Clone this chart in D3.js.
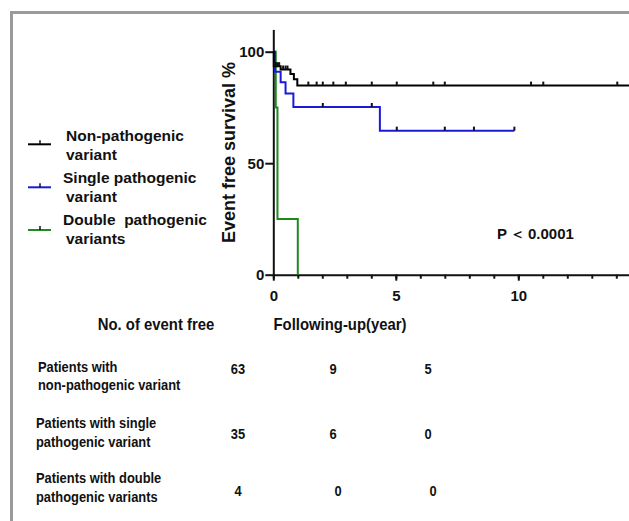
<!DOCTYPE html>
<html>
<head>
<meta charset="utf-8">
<script src="https://cdn.jsdelivr.net/npm/d3@7"></script>
<style>
  body { margin: 0; background: #fff; }
  text { font-family: "Liberation Sans", Arial, sans-serif; font-weight: bold; fill: #111; }
</style>
</head>
<body>
<div id="chart"></div>
<script>
// survival curves (time in years, survival %)
const nonTime = [0, 0.02, 0.3, 0.7, 0.84, 0.98, 15];
const nonSurv = [100, 93.5, 92, 90, 87.7, 84.8, 84.8];
const nonCensor = [0.06, 0.12, 0.18, 0.24, 0.4, 0.5, 0.58, 1.43, 1.77, 2.02, 2.45, 2.96, 4.02, 5.04, 6.53, 7.0, 10.52, 11.02, 14.04];

const singleTime = [0, 0.07, 0.3, 0.5, 0.82, 4.35, 9.84];
const singleSurv = [100, 91, 86.3, 81.3, 75.2, 64.6, 64.6];
const singleCensor = [2.02, 4.02, 5.04, 7.0, 8.19, 9.84];

const doubleTime = [0, 0.1, 0.17, 1.0];
const doubleSurv = [100, 75, 25, 0];
const doubleCensor = [];

const yTicks = [0, 50, 100];
const xMajor = [0, 5, 10];
const xMinor = d3.range(0, 16);

const legendLabels = [["Non-pathogenic", "variant"], ["Single pathogenic", "variant"], ["Double  pathogenic", "variants"]];
const colors = ["#000000", "#1a1adc", "#1e8a1e"];

// number at risk table
const tableHeader = ["No. of event free", "Following-up(year)"];
const rowLabels = [["Patients with", "non-pathogenic variant"], ["Patients with single", "pathogenic variant"], ["Patients with double", "pathogenic variants"]];
const atRisk = [[63, 9, 5], [35, 6, 0], [4, 0, 0]];

const W = 629, H = 521;

const svg = d3.select("#chart").append("svg")
  .attr("width", W).attr("height", H);

svg.append("rect").attr("width", W).attr("height", H).attr("fill", "#fff");

// gray frame (top + left)
svg.append("path")
  .attr("d", `M11.5,${H} V12.5 H${W}`)
  .attr("fill", "none").attr("stroke", "#9a9a9a").attr("stroke-width", 3);

const x = d3.scaleLinear().domain([0, 15]).range([273.3, 273.3 + 15 * 24.5]);
const y = d3.scaleLinear().domain([0, 110]).range([274.7, 274.7 - 110 * 2.23]);

// axes
const gx = svg.append("g").attr("transform", `translate(0,${y(0)})`);
gx.call(d3.axisBottom(x).tickValues(xMinor).tickSize(4).tickSizeOuter(0).tickFormat(""));
const gx2 = svg.append("g").attr("transform", `translate(0,${y(0)})`);
gx2.call(d3.axisBottom(x).tickValues(xMajor).tickSize(6).tickSizeOuter(0).tickPadding(5));
gx2.select(".domain").remove();

const gy = svg.append("g").attr("transform", `translate(${x(0)},0)`);
gy.call(d3.axisLeft(y).tickValues(yTicks).tickSize(8).tickSizeOuter(0).tickPadding(1));

svg.selectAll(".domain, .tick line").attr("stroke", "#111").attr("stroke-width", 2);
svg.selectAll(".tick text").attr("font-size", 15).attr("font-family", null).attr("fill", "#111");
gx2.selectAll(".tick text").attr("dy", "1.05em");

svg.append("text")
  .attr("transform", `translate(235,152.5) rotate(-90)`)
  .attr("text-anchor", "middle")
  .attr("font-size", 18)
  .text("Event free survival %");

// curves
const series = [
  { t: doubleTime, s: doubleSurv, c: doubleCensor, col: colors[2] },
  { t: singleTime, s: singleSurv, c: singleCensor, col: colors[1] },
  { t: nonTime, s: nonSurv, c: nonCensor, col: colors[0] },
];

const line = d3.line().x(d => x(d[0])).y(d => y(d[1])).curve(d3.curveStepAfter);
const bis = d3.bisector(d => d).right;

series.forEach(ser => {
  const pts = ser.t.map((t, i) => [t, ser.s[i]]);
  svg.append("path").datum(pts)
    .attr("d", line)
    .attr("fill", "none").attr("stroke", ser.col).attr("stroke-width", 2);

  svg.selectAll(null).data(ser.c).enter().append("line")
    .attr("x1", d => x(d)).attr("x2", d => x(d))
    .attr("y1", d => y(ser.s[Math.max(0, bis(ser.t, d) - 1)]))
    .attr("y2", d => y(ser.s[Math.max(0, bis(ser.t, d) - 1)]) - 4)
    .attr("stroke", "#111").attr("stroke-width", 2);
});

svg.append("text").attr("x", 497).attr("y", 239).attr("font-size", 15)
  .style("white-space", "pre").text("P\u2009＜\u20090.0001");

// legend
const legendY = [144.3, 187.3, 230];
const legendText = [[140.7, 160], [183, 201.5], [225, 244]];
legendLabels.forEach((lab, i) => {
  const g = svg.append("g");
  g.append("line").attr("x1", 28).attr("x2", 51).attr("y1", legendY[i]).attr("y2", legendY[i])
    .attr("stroke", colors[i]).attr("stroke-width", 2);
  g.append("line").attr("x1", 40).attr("x2", 40).attr("y1", legendY[i]).attr("y2", legendY[i] - 4)
    .attr("stroke", "#111").attr("stroke-width", 1.5);
  lab.forEach((l, j) => {
    g.append("text").attr("x", j == 0 && i > 0 ? 63 : 66).attr("y", legendText[i][j])
      .attr("font-size", 15.5).style("white-space", "pre").text(l);
  });
});

// table
svg.append("text").attr("transform", "translate(156,330) scale(0.93,1)").attr("text-anchor", "middle").attr("font-size", 16).text(tableHeader[0]);
svg.append("text").attr("transform", "translate(340,330) scale(0.93,1)").attr("text-anchor", "middle").attr("font-size", 16).text(tableHeader[1]);

const colX = d3.scalePoint().domain([0, 1, 2]).range([238, 428]);
const rowBase = [[371.7, 390], [428, 446.7], [483, 501.7]];
const numBase = [374, 439, 496];

rowLabels.forEach((lab, i) => {
  lab.forEach((l, j) => {
    svg.append("text")
      .attr("transform", `translate(${i == 0 ? 38 : 36},${rowBase[i][j]}) scale(0.86,1)`)
      .attr("font-size", 15).text(l);
  });
  svg.selectAll(null).data(atRisk[i]).enter().append("text")
    .attr("transform", (d, k) => `translate(${colX(k) + (i == 2 && k > 0 ? 5 : 0)},${numBase[i]}) scale(0.86,1)`)
    .attr("text-anchor", "middle").attr("font-size", 15)
    .text(d => d);
});
</script>
</body>
</html>
